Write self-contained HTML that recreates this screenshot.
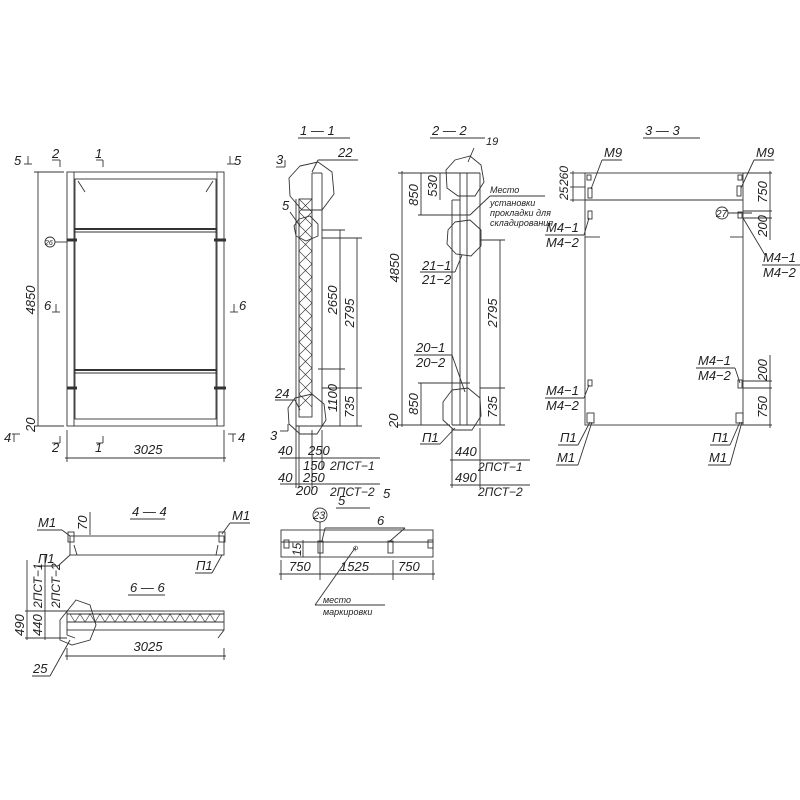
<!DOCTYPE html>
<html><head><meta charset="utf-8"><style>
html,body{margin:0;padding:0;background:#fff;width:800px;height:800px;overflow:hidden}
svg{display:block}
text{font-family:"Liberation Sans","DejaVu Sans",sans-serif;font-style:italic;fill:#222;stroke:none;font-size:13px}
.s{font-size:10px}
</style></head><body>
<svg width="800" height="800" viewBox="0 0 800 800" xmlns="http://www.w3.org/2000/svg" stroke="#333" stroke-width="0.9" fill="none">
<!-- ===== Main elevation ===== -->
<rect x="67" y="172" width="157" height="254"/>
<line x1="74" y1="172" x2="74" y2="426"/>
<line x1="217" y1="172" x2="217" y2="426"/>
<rect x="75" y="179" width="141" height="240"/>
<line x1="74" y1="229" x2="217" y2="229" stroke-width="2"/>
<line x1="74" y1="232" x2="217" y2="232"/>
<line x1="74" y1="370" x2="217" y2="370" stroke-width="2"/>
<line x1="74" y1="373" x2="217" y2="373"/>
<line x1="78" y1="181" x2="85" y2="192"/><line x1="213" y1="181" x2="206" y2="192"/>
<line x1="67" y1="240" x2="77" y2="240" stroke-width="3"/><line x1="214" y1="240" x2="226" y2="240" stroke-width="3"/>
<line x1="67" y1="388" x2="77" y2="388" stroke-width="3"/><line x1="214" y1="388" x2="226" y2="388" stroke-width="3"/>
<circle cx="50" cy="242" r="5"/><line x1="55" y1="242" x2="67" y2="242"/>
<text x="45" y="245" class="s" style="font-size:7px">26</text>
<line x1="38" y1="172" x2="38" y2="426"/>
<line x1="34" y1="172" x2="64" y2="172"/><line x1="34" y1="426" x2="64" y2="426"/>
<text transform="translate(38,300) rotate(-90)" text-anchor="middle" y="-3">4850</text>
<text transform="translate(35,432) rotate(-90)" y="0">20</text>
<line x1="67" y1="430" x2="67" y2="462"/><line x1="224" y1="430" x2="224" y2="462"/>
<line x1="65" y1="458" x2="226" y2="458"/>
<text x="148" y="454" text-anchor="middle">3025</text>
<text x="14" y="165">5</text><line x1="24" y1="164" x2="32" y2="164"/><line x1="28" y1="156" x2="28" y2="164"/>
<text x="52" y="158">2</text><line x1="52" y1="160" x2="60" y2="160"/><line x1="60" y1="160" x2="60" y2="167"/>
<text x="95" y="158">1</text><line x1="96" y1="160" x2="103" y2="160"/><line x1="103" y1="160" x2="103" y2="167"/>
<text x="234" y="165">5</text><line x1="227" y1="164" x2="235" y2="164"/><line x1="230" y1="156" x2="230" y2="164"/>
<text x="44" y="310">6</text><line x1="52" y1="312" x2="60" y2="312"/><line x1="56" y1="304" x2="56" y2="312"/>
<text x="239" y="310">6</text><line x1="230" y1="312" x2="238" y2="312"/><line x1="234" y1="304" x2="234" y2="312"/>
<text x="4" y="442">4</text><line x1="12" y1="434" x2="20" y2="434"/><line x1="14" y1="434" x2="14" y2="442"/>
<text x="238" y="442">4</text><line x1="228" y1="434" x2="236" y2="434"/><line x1="233" y1="434" x2="233" y2="442"/>
<text x="52" y="452">2</text><line x1="52" y1="443" x2="60" y2="443"/><line x1="60" y1="436" x2="60" y2="443"/>
<text x="95" y="452">1</text><line x1="96" y1="443" x2="103" y2="443"/><line x1="103" y1="436" x2="103" y2="443"/>

<!-- ===== 1-1 ===== -->
<text x="300" y="135">1 — 1</text><line x1="298" y1="138" x2="350" y2="138"/>
<rect x="299" y="199" width="13" height="218"/>
<g stroke-width="0.6">
<path d="M299 199 l13 13 M299 212 l13 13 M299 225 l13 13 M299 238 l13 13 M299 251 l13 13 M299 264 l13 13 M299 277 l13 13 M299 290 l13 13 M299 303 l13 13 M299 316 l13 13 M299 329 l13 13 M299 342 l13 13 M299 355 l13 13 M299 368 l13 13 M299 381 l13 13 M299 394 l13 13"/>
<path d="M312 199 l-13 13 M312 212 l-13 13 M312 225 l-13 13 M312 238 l-13 13 M312 251 l-13 13 M312 264 l-13 13 M312 277 l-13 13 M312 290 l-13 13 M312 303 l-13 13 M312 316 l-13 13 M312 329 l-13 13 M312 342 l-13 13 M312 355 l-13 13 M312 368 l-13 13 M312 381 l-13 13 M312 394 l-13 13"/>
</g>
<polyline points="312,173 312,199"/><line x1="312" y1="173" x2="322" y2="173"/>
<line x1="322" y1="173" x2="322" y2="426"/><line x1="296" y1="426" x2="322" y2="426"/>
<line x1="296" y1="199" x2="296" y2="426"/>
<polygon points="300,166 318,162 332,172 334,194 322,210 302,210 290,196 289,178"/>
<polygon points="299,219 310,216 318,224 318,236 306,241 296,236 294,226"/>
<polygon points="295,398 312,394 324,404 326,420 317,434 300,434 289,424 288,408"/>
<line x1="322" y1="230" x2="345" y2="230"/><line x1="322" y1="238" x2="362" y2="238"/>
<line x1="318" y1="369" x2="345" y2="369"/><line x1="322" y1="388" x2="362" y2="388"/><line x1="322" y1="426" x2="362" y2="426"/>
<line x1="340" y1="230" x2="340" y2="426"/><line x1="357" y1="238" x2="357" y2="426"/>
<text transform="translate(337,300) rotate(-90)" text-anchor="middle">2650</text>
<text transform="translate(354,313) rotate(-90)" text-anchor="middle">2795</text>
<text transform="translate(337,398) rotate(-90)" text-anchor="middle">1100</text>
<text transform="translate(354,407) rotate(-90)" text-anchor="middle">735</text>
<text x="338" y="157">22</text><line x1="318" y1="160" x2="358" y2="160"/><line x1="318" y1="160" x2="312" y2="172"/>
<text x="276" y="164">3</text><line x1="276" y1="167" x2="285" y2="167"/><line x1="285" y1="160" x2="285" y2="167"/>
<text x="282" y="210">5</text><line x1="290" y1="212" x2="300" y2="226"/>
<text x="275" y="398">24</text><line x1="275" y1="400" x2="295" y2="400"/><line x1="295" y1="400" x2="300" y2="410"/>
<text x="270" y="440">3</text><line x1="280" y1="431" x2="288" y2="431"/><line x1="288" y1="424" x2="288" y2="431"/>
<line x1="299" y1="426" x2="299" y2="488"/><line x1="296" y1="426" x2="296" y2="488"/><line x1="312" y1="430" x2="312" y2="488"/><line x1="322" y1="430" x2="322" y2="470"/>
<text x="278" y="455">40</text><text x="308" y="455">250</text>
<line x1="280" y1="458" x2="380" y2="458"/>
<text x="303" y="470">150</text><text x="330" y="470" style="font-size:12px">2ПСТ−1</text>
<text x="278" y="482">40</text><text x="303" y="482">250</text>
<line x1="280" y1="484" x2="380" y2="484"/>
<text x="296" y="495">200</text><text x="330" y="496" style="font-size:12px">2ПСТ−2</text>
<text x="383" y="498">5</text>

<!-- ===== 2-2 ===== -->
<text x="432" y="135">2 — 2</text><line x1="430" y1="138" x2="485" y2="138"/>
<text x="486" y="145" style="font-size:11px">19</text>
<line x1="460" y1="173" x2="460" y2="425"/><line x1="480" y1="173" x2="480" y2="425"/>
<line x1="467" y1="173" x2="467" y2="425"/><line x1="452" y1="200" x2="452" y2="425"/>
<line x1="460" y1="173" x2="480" y2="173"/><line x1="452" y1="200" x2="460" y2="200"/>
<line x1="452" y1="425" x2="480" y2="425"/>
<polygon points="455,160 470,156 481,165 484,182 475,196 458,196 447,188 446,170"/>
<polygon points="455,222 470,220 481,230 481,246 471,256 456,254 447,244 448,230"/>
<polygon points="452,390 468,388 480,398 481,416 472,430 454,430 443,420 443,402"/>
<line x1="398" y1="173" x2="460" y2="173"/><line x1="398" y1="425" x2="450" y2="425"/>
<line x1="402" y1="171" x2="402" y2="427"/>
<line x1="421" y1="173" x2="421" y2="215"/><line x1="440" y1="173" x2="440" y2="200"/>
<line x1="418" y1="215" x2="470" y2="215"/>
<line x1="421" y1="383" x2="421" y2="425"/><line x1="418" y1="383" x2="470" y2="383"/>
<line x1="480" y1="240" x2="505" y2="240"/><line x1="480" y1="388" x2="505" y2="388"/><line x1="480" y1="425" x2="505" y2="425"/>
<line x1="500" y1="240" x2="500" y2="425"/>
<text transform="translate(399,268) rotate(-90)" text-anchor="middle">4850</text>
<text transform="translate(418,195) rotate(-90)" text-anchor="middle">850</text>
<text transform="translate(437,186) rotate(-90)" text-anchor="middle">530</text>
<text transform="translate(418,404) rotate(-90)" text-anchor="middle">850</text>
<text transform="translate(398,428) rotate(-90)" text-anchor="start">20</text>
<text transform="translate(497,313) rotate(-90)" text-anchor="middle">2795</text>
<text transform="translate(497,407) rotate(-90)" text-anchor="middle">735</text>
<line x1="474" y1="148" x2="468" y2="162"/>
<text x="490" y="193" style="font-size:9px">Место</text>
<line x1="490" y1="196" x2="545" y2="196"/><line x1="490" y1="196" x2="470" y2="215"/>
<text x="490" y="206" style="font-size:9px">установки</text>
<text x="490" y="216" style="font-size:9px">прокладки для</text>
<text x="490" y="226" style="font-size:9px">складирования</text>
<text x="422" y="270">21−1</text><line x1="420" y1="272" x2="455" y2="272"/><text x="422" y="284">21−2</text>
<line x1="455" y1="272" x2="462" y2="255"/>
<text x="416" y="352">20−1</text><line x1="414" y1="355" x2="452" y2="355"/><text x="416" y="367">20−2</text>
<line x1="452" y1="355" x2="465" y2="392"/>
<text x="422" y="442">П1</text><line x1="420" y1="444" x2="440" y2="444"/><line x1="440" y1="444" x2="455" y2="428"/>
<line x1="452" y1="428" x2="452" y2="488"/><line x1="480" y1="428" x2="480" y2="488"/>
<text x="455" y="456">440</text><line x1="450" y1="460" x2="530" y2="460"/>
<text x="478" y="471" style="font-size:12px">2ПСТ−1</text>
<text x="455" y="482">490</text><line x1="450" y1="485" x2="530" y2="485"/>
<text x="478" y="496" style="font-size:12px">2ПСТ−2</text>

<!-- ===== 3-3 ===== -->
<text x="645" y="135">3 — 3</text><line x1="643" y1="138" x2="700" y2="138"/>
<rect x="585" y="173" width="158" height="252"/>
<line x1="585" y1="200" x2="743" y2="200"/>
<rect x="587" y="175" width="4" height="5"/><rect x="738" y="175" width="4" height="5"/>
<rect x="588" y="188" width="4" height="10"/><rect x="737" y="186" width="4" height="10"/>
<rect x="588" y="211" width="4" height="8"/><rect x="738" y="212" width="4" height="6"/>
<rect x="588" y="380" width="4" height="6"/><rect x="738" y="380" width="4" height="8"/>
<rect x="587" y="413" width="7" height="10"/><rect x="736" y="413" width="7" height="10"/>
<line x1="585" y1="237" x2="600" y2="237"/><line x1="730" y1="237" x2="743" y2="237"/>
<text x="604" y="157">М9</text><line x1="602" y1="160" x2="622" y2="160"/><line x1="602" y1="160" x2="591" y2="189"/>
<text x="756" y="157">М9</text><line x1="754" y1="160" x2="774" y2="160"/><line x1="754" y1="160" x2="741" y2="188"/>
<line x1="570" y1="173" x2="585" y2="173"/><line x1="570" y1="187" x2="585" y2="187"/><line x1="570" y1="200" x2="585" y2="200"/>
<line x1="573" y1="171" x2="573" y2="202"/>
<text transform="translate(568,200) rotate(-90)" style="font-size:12px">25</text>
<text transform="translate(568,186) rotate(-90)" style="font-size:12px">260</text>
<text x="546" y="232">М4−1</text><line x1="545" y1="235" x2="584" y2="235"/><text x="546" y="247">М4−2</text>
<line x1="584" y1="235" x2="589" y2="218"/>
<line x1="743" y1="173" x2="772" y2="173"/><line x1="743" y1="211" x2="772" y2="211"/><line x1="743" y1="218" x2="772" y2="218"/>
<line x1="770" y1="171" x2="770" y2="240"/>
<text transform="translate(767,192) rotate(-90)" text-anchor="middle">750</text>
<text transform="translate(767,226) rotate(-90)" text-anchor="middle">200</text>
<circle cx="722" cy="213" r="6"/><text x="716" y="217" style="font-size:10px">27</text>
<line x1="728" y1="213" x2="752" y2="213"/>
<line x1="743" y1="218" x2="765" y2="255"/>
<text x="763" y="262">М4−1</text><line x1="762" y1="265" x2="800" y2="265"/><text x="763" y="277">М4−2</text>
<text x="698" y="365">М4−1</text><line x1="696" y1="368" x2="735" y2="368"/><text x="698" y="380">М4−2</text>
<line x1="735" y1="368" x2="740" y2="383"/>
<line x1="743" y1="381" x2="772" y2="381"/><line x1="743" y1="388" x2="772" y2="388"/><line x1="743" y1="425" x2="772" y2="425"/>
<line x1="770" y1="355" x2="770" y2="428"/>
<text transform="translate(767,370) rotate(-90)" text-anchor="middle">200</text>
<text transform="translate(767,407) rotate(-90)" text-anchor="middle">750</text>
<text x="546" y="395">М4−1</text><line x1="545" y1="398" x2="584" y2="398"/><text x="546" y="410">М4−2</text>
<line x1="584" y1="398" x2="589" y2="385"/>
<text x="560" y="442">П1</text><line x1="558" y1="445" x2="578" y2="445"/>
<text x="557" y="462">М1</text><line x1="556" y1="465" x2="578" y2="465"/>
<line x1="578" y1="445" x2="590" y2="422"/><line x1="578" y1="465" x2="592" y2="422"/>
<text x="712" y="442">П1</text><line x1="710" y1="445" x2="730" y2="445"/>
<text x="709" y="462">М1</text><line x1="708" y1="465" x2="730" y2="465"/>
<line x1="730" y1="445" x2="740" y2="422"/><line x1="730" y1="465" x2="742" y2="422"/>

<!-- ===== 4-4 ===== -->
<text x="132" y="516">4 — 4</text><line x1="130" y1="519" x2="165" y2="519"/>
<rect x="70" y="536" width="154" height="19"/>
<rect x="68" y="532" width="6" height="10"/><rect x="219" y="532" width="6" height="10"/>
<path d="M74 545 L77 555 M218 545 L216 555"/>
<line x1="90" y1="512" x2="90" y2="535"/>
<text transform="translate(87,530) rotate(-90)">70</text>
<text x="38" y="527">М1</text><line x1="37" y1="530" x2="62" y2="530"/><line x1="62" y1="530" x2="70" y2="536"/>
<text x="232" y="520">М1</text><line x1="230" y1="523" x2="250" y2="523"/><line x1="230" y1="523" x2="222" y2="534"/>
<text x="196" y="570">П1</text><line x1="195" y1="573" x2="212" y2="573"/><line x1="212" y1="573" x2="222" y2="555"/>
<text x="38" y="563">П1</text><line x1="37" y1="566" x2="58" y2="566"/><line x1="58" y1="566" x2="70" y2="555"/>
<!-- 6-6 -->
<text x="130" y="592">6 — 6</text><line x1="128" y1="595" x2="165" y2="595"/>
<rect x="67" y="611" width="157" height="19"/>
<line x1="67" y1="614" x2="224" y2="614"/><line x1="67" y1="622" x2="224" y2="622"/>
<path d="M70 614 l5 8 l5 -8 l5 8 l5 -8 l5 8 l5 -8 l5 8 l5 -8 l5 8 l5 -8 l5 8 l5 -8 l5 8 l5 -8 l5 8 l5 -8 l5 8 l5 -8 l5 8 l5 -8 l5 8 l5 -8 l5 8 l5 -8 l5 8 l5 -8 l5 8 l5 -8 l5 8 l5 -8" stroke-width="0.6"/>
<path d="M67 630 L67 635 L75 638 M224 630 L218 638"/>
<polygon points="60,620 76,600 90,605 96,625 90,640 72,645 60,640"/>
<line x1="25" y1="611" x2="67" y2="611"/><line x1="25" y1="638" x2="67" y2="638"/>
<line x1="27" y1="560" x2="27" y2="640"/><line x1="45" y1="555" x2="45" y2="640"/>
<text transform="translate(24,636) rotate(-90)">490</text>
<text transform="translate(42,636) rotate(-90)">440</text>
<text transform="translate(42,608) rotate(-90)" style="font-size:12px">2ПСТ−1</text>
<text transform="translate(60,608) rotate(-90)" style="font-size:12px">2ПСТ−2</text>
<line x1="67" y1="648" x2="67" y2="660"/><line x1="224" y1="648" x2="224" y2="660"/>
<line x1="65" y1="656" x2="226" y2="656"/>
<text x="148" y="651" text-anchor="middle">3025</text>
<text x="33" y="673">25</text><line x1="32" y1="676" x2="50" y2="676"/><line x1="50" y1="676" x2="70" y2="640"/>

<!-- ===== 5-5 ===== -->
<text x="338" y="505">5</text><line x1="336" y1="508" x2="370" y2="508"/>
<rect x="281" y="530" width="152" height="27"/>
<line x1="281" y1="542" x2="433" y2="542"/>
<rect x="284" y="540" width="5" height="8"/><rect x="428" y="540" width="5" height="8"/>
<rect x="318" y="541" width="5" height="12"/><rect x="388" y="541" width="5" height="12"/>
<circle cx="320" cy="515" r="7"/><text x="313" y="519" style="font-size:11px">23</text>
<line x1="320" y1="522" x2="320" y2="560"/>
<text x="377" y="525">6</text><line x1="325" y1="528" x2="405" y2="528"/><line x1="325" y1="528" x2="322" y2="541"/><line x1="405" y1="528" x2="390" y2="541"/>
<line x1="303" y1="540" x2="303" y2="557"/>
<text transform="translate(301,556) rotate(-90)" style="font-size:12px">15</text>
<line x1="281" y1="560" x2="281" y2="580"/><line x1="320" y1="560" x2="320" y2="580"/><line x1="393" y1="560" x2="393" y2="580"/><line x1="433" y1="560" x2="433" y2="580"/>
<line x1="279" y1="574" x2="435" y2="574"/>
<text x="289" y="571">750</text><text x="340" y="571">1525</text><text x="398" y="571">750</text>
<text x="353" y="550" style="font-size:6px">ф</text>
<line x1="355" y1="548" x2="315" y2="605"/><line x1="315" y1="605" x2="385" y2="605"/>
<text x="323" y="603" style="font-size:9px">место</text>
<text x="323" y="615" style="font-size:9px">маркировки</text>
</svg>
</body></html>
